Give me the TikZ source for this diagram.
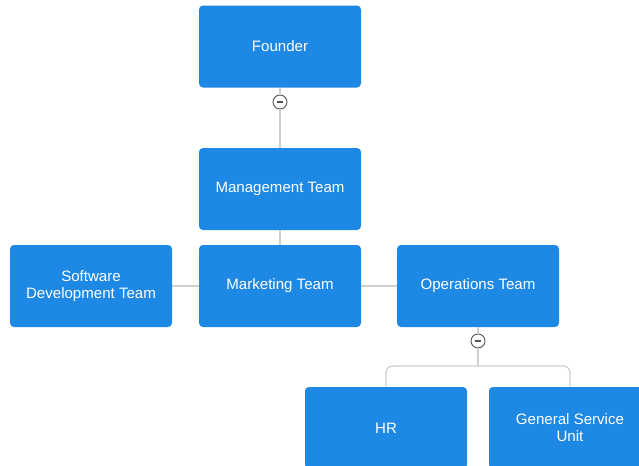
\documentclass[tikz,border=0pt]{standalone}
\usepackage{fontspec}
\setmainfont{Liberation Sans}
\usetikzlibrary{positioning}
\definecolor{ocblue}{HTML}{1E88E5}
\definecolor{ocline}{HTML}{CFCFCF}
\definecolor{ocicon}{HTML}{555555}
\tikzset{
  oc box/.style={fill=ocblue, draw=none, rounded corners=3pt,
    minimum width=121.5pt, minimum height=61.5pt, align=center,
    text=white, font=\fontsize{11.3}{12.8}\selectfont},
  oc link/.style={draw=ocline, line width=0.9pt},
  oc toggle/.style={circle, draw=ocicon, line width=0.7pt, fill=white,
    minimum size=10.5pt, inner sep=0pt,
    path picture={\draw[ocicon, line width=0.9pt]
      ([xshift=-2.6pt]path picture bounding box.center) --
      ([xshift=2.6pt]path picture bounding box.center);}}
}

\begin{document}
\begin{tikzpicture}[x=0.75pt, y=-0.75pt]
  \clip (0,0) rectangle (639,465);
  \fill[white] (0,0) rectangle (639,465);
  % boxes
  \node[oc box] (founder) at (280,46.5) {Founder};
  \node[oc box] (mgmt) at (280,189) {Management Team};
  \node[oc box] (mkt) at (280,286) {Marketing Team};
  \node[oc box] (soft) at (91,286) {Software\\Development Team};
  \node[oc box] (ops) at (478,286) {Operations Team};
  \node[oc box] (hr) at (386,428) {HR};
  \node[oc box] (gsu) at (570,428) {General Service\\Unit};
  % collapse buttons
  \node[oc toggle] (tgfounder) at (280,102) {};
  \node[oc toggle] (tgops) at (478,341) {};
  \coordinate (split) at (478,366);
  % links
  \draw[oc link] (founder) -- (tgfounder) -- (mgmt);
  \draw[oc link] (mgmt) -- (mkt);
  \draw[oc link] (soft) -- (mkt);
  \draw[oc link] (mkt) -- (ops);
  \draw[oc link] (ops) -- (tgops) -- (split);
  \draw[oc link, rounded corners=5pt] (hr.north) |- (split) -| (gsu.north);
\end{tikzpicture}
\end{document}
